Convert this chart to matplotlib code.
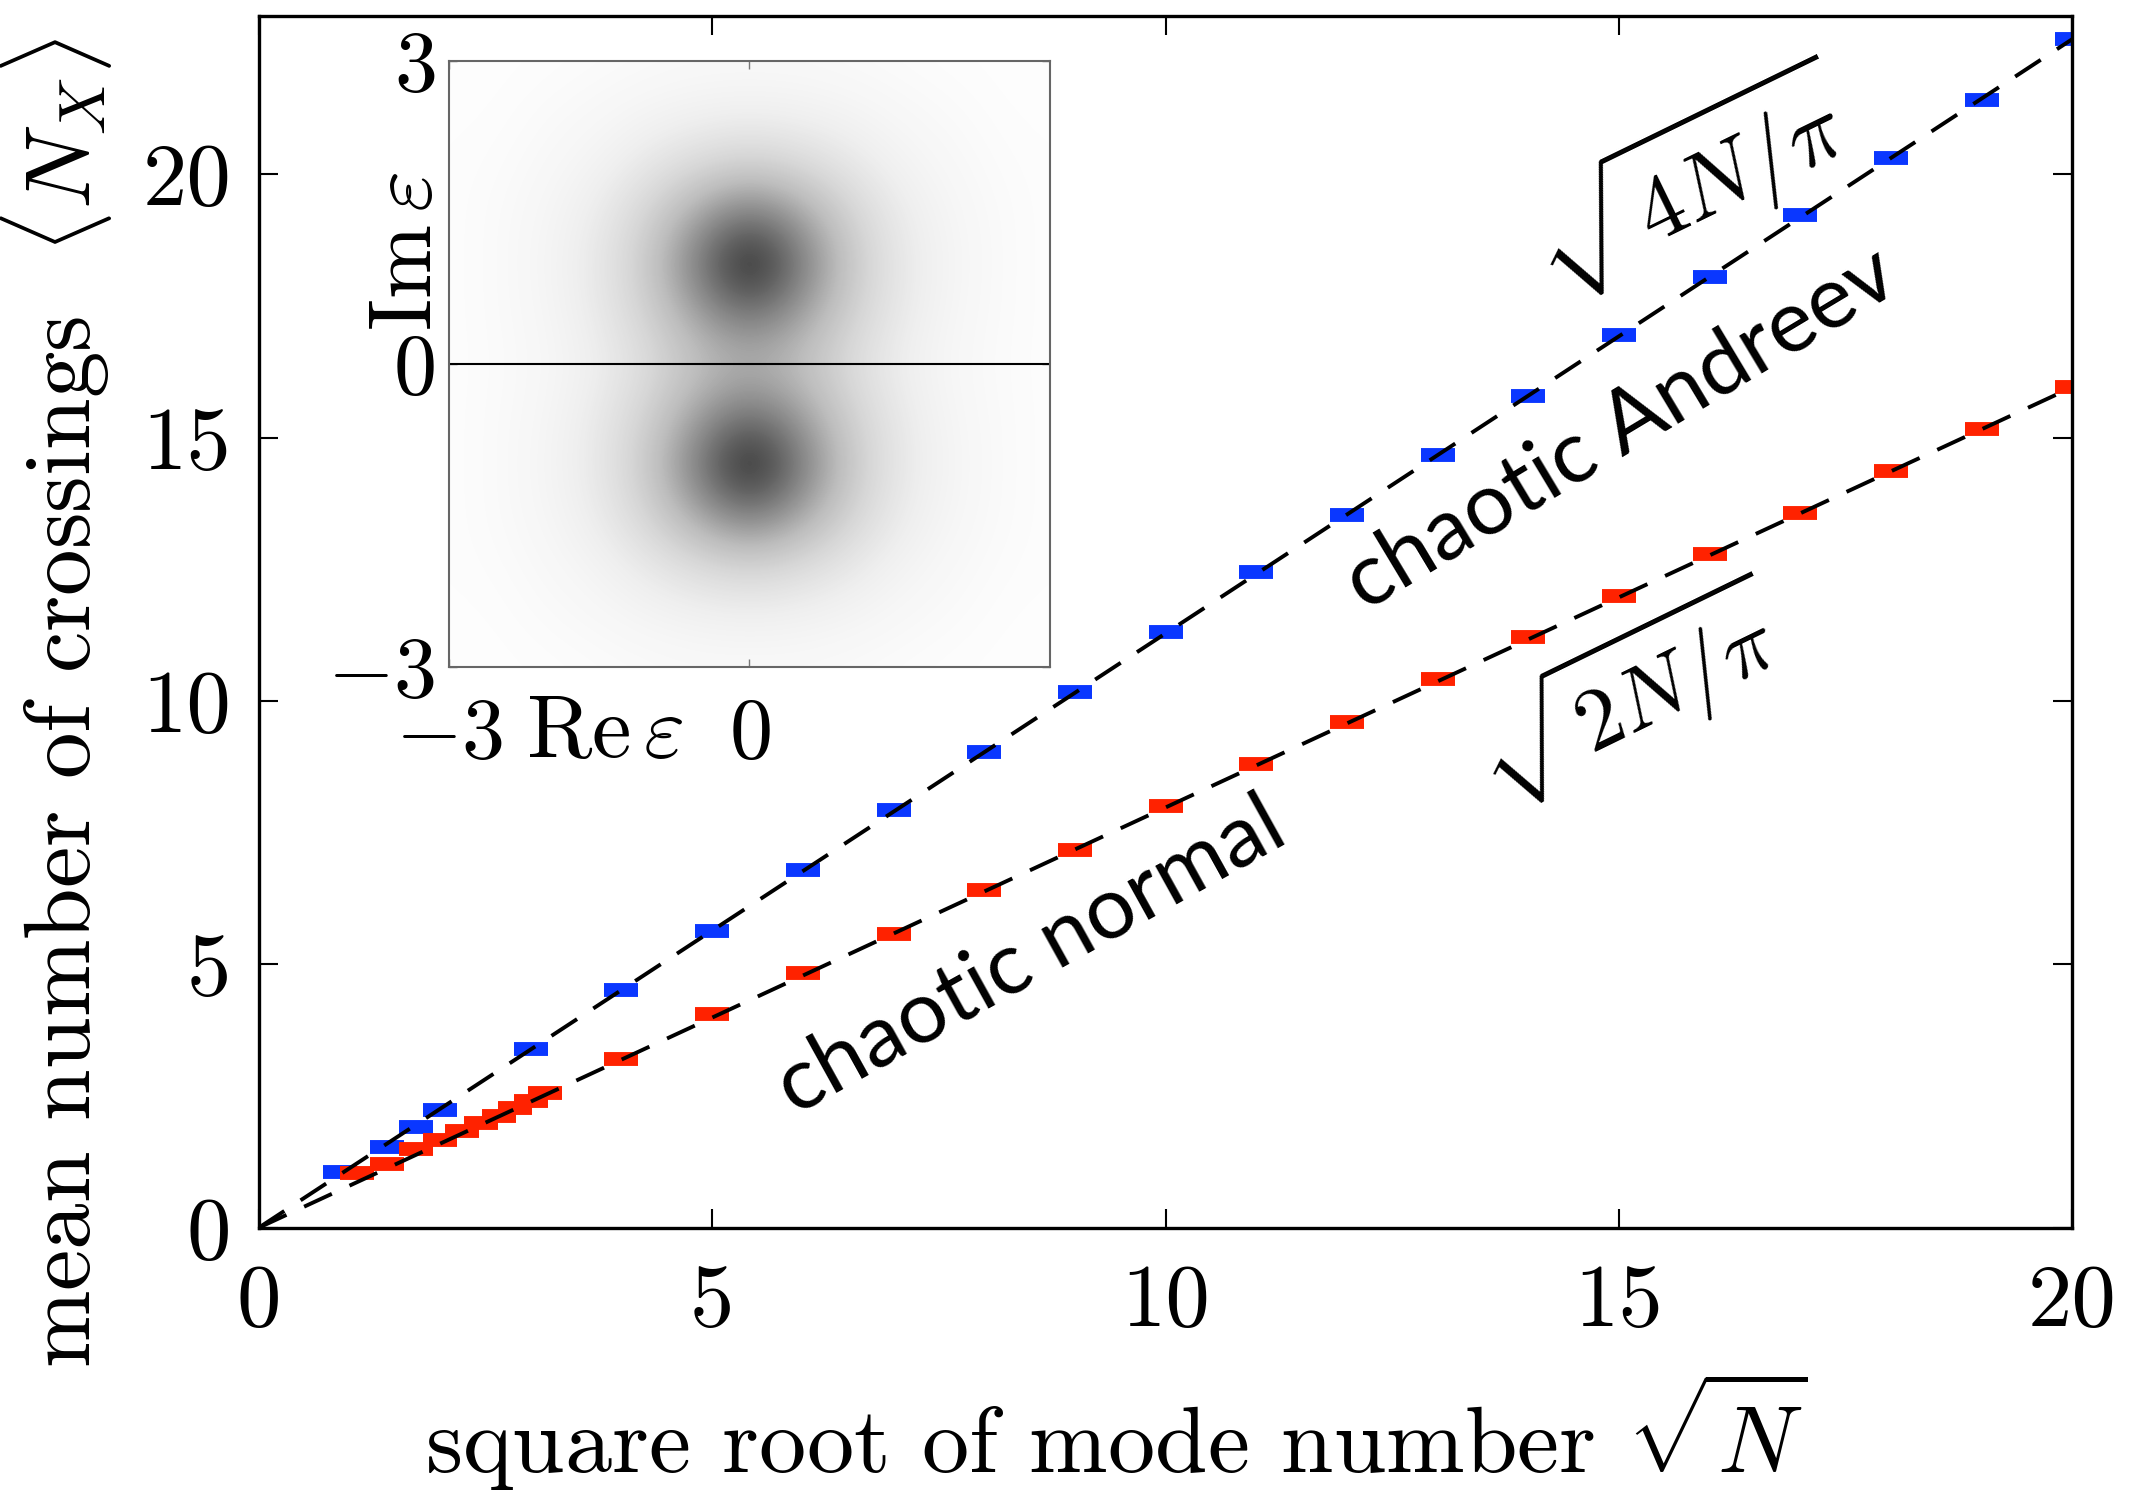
import numpy as np
import matplotlib
matplotlib.use('Agg')
import matplotlib.pyplot as plt

plt.rcParams['font.family'] = 'serif'
plt.rcParams['font.serif'] = ['cmr10']
plt.rcParams['mathtext.fontset'] = 'cm'
plt.rcParams['axes.unicode_minus'] = False
plt.rcParams['lines.scale_dashes'] = False

# sqrt(N) positions and mean crossings
andreev_x = [0.9, 1.41, 1.73, 2.0, 3, 4, 5, 6, 7, 8, 9, 10, 11, 12, 13, 14, 15, 16, 17, 18, 19, 20]
andreev_y = [1.05, 1.54, 1.92, 2.24, 3.40, 4.52, 5.63, 6.80, 7.93, 9.04, 10.18, 11.32, 12.45,
             13.54, 14.68, 15.79, 16.95, 18.06, 19.22, 20.31, 21.42, 22.58]
normal_x = [1.08, 1.41, 1.73, 2.0, 2.24, 2.45, 2.65, 2.83, 3.0, 3.16, 4, 5, 6, 7, 8, 9, 10,
            11, 12, 13, 14, 15, 16, 17, 18, 19, 20]
normal_y = [1.04, 1.21, 1.50, 1.67, 1.83, 1.99, 2.13, 2.27, 2.41, 2.55, 3.20, 4.06, 4.83, 5.58,
            6.41, 7.18, 8.01, 8.81, 9.61, 10.41, 11.21, 11.99, 12.79, 13.57, 14.37, 15.17, 15.97]

# dashed guide lines sqrt(4N/pi) and sqrt(2N/pi), end points
line_x = [0, 20]
line_andreev = [0, 22.57]
line_normal = [0, 15.96]

# inset: darkness of the eigenvalue cloud (rows y = 3 ... 0, cols x = -3 ... 3), mirrored below
half = [
    [.01, .015, .02, .03, .04, .05, .05, .05, .04, .03, .02, .015, .01],
    [.015, .02, .04, .06, .09, .11, .12, .11, .09, .06, .04, .02, .015],
    [.02, .03, .06, .10, .17, .24, .28, .24, .17, .10, .06, .03, .02],
    [.02, .04, .08, .15, .28, .45, .58, .45, .28, .15, .08, .04, .02],
    [.02, .04, .09, .17, .33, .60, 1.0, .60, .33, .17, .09, .04, .02],
    [.02, .04, .08, .16, .29, .47, .62, .47, .29, .16, .08, .04, .02],
]
mid_row = [.02, .035, .07, .13, .23, .35, .40, .35, .23, .13, .07, .035, .02]
density = np.array(half + [mid_row] + half[::-1])

blue = '#0a37ff'
red = '#ff2200'

fig = plt.figure(figsize=(21.35, 15.04), dpi=100)
ax = fig.add_axes([0.1212, 0.1837, 0.8495, 0.8054])

ax.plot(andreev_x, andreev_y, ls='none', marker='_', ms=24, mew=10, color=blue, zorder=2)
ax.plot(normal_x, normal_y, ls='none', marker='_', ms=24, mew=10, color=red, zorder=2)
ax.plot(line_x, line_andreev, color='black', lw=2.8, dashes=(22, 14), zorder=3)
ax.plot(line_x, line_normal, color='black', lw=2.8, dashes=(22, 14), zorder=3)

ax.set_xlim(0, 20)
ax.set_ylim(0, 23)
ax.set_xticks([0, 5, 10, 15, 20])
ax.set_yticks([0, 5, 10, 15, 20])
ax.tick_params(direction='in', length=14, width=1.5, labelsize=64, top=True, right=True)
ax.tick_params(axis='x', pad=26)
ax.tick_params(axis='y', pad=20)
for s in ax.spines.values():
    s.set_linewidth(2.4)

ax.set_xlabel(r'square root of mode number $\sqrt{N}$', fontsize=68)
ax.xaxis.set_label_coords(0.473, -0.118)
ax.set_ylabel(r'mean number of crossings  $\langle N_X\rangle$', fontsize=67)
ax.yaxis.set_label_coords(-0.08, 0.433)

ax.text(15.02, 15.17, 'chaotic Andreev', family='Lato', fontsize=63, rotation=31,
        rotation_mode='anchor', ha='center', va='center')
ax.text(8.51, 5.14, 'chaotic normal', family='Lato', fontsize=63, rotation=29,
        rotation_mode='anchor', ha='center', va='center')
ax.text(15.77, 19.85, r'$\sqrt{4N/\pi}$', fontsize=66, rotation=26,
        rotation_mode='anchor', ha='center', va='center')
ax.text(15.09, 10.13, r'$\sqrt{2N/\pi}$', fontsize=64, rotation=26,
        rotation_mode='anchor', ha='center', va='center')

# inset
ins = fig.add_axes([0.2103, 0.5565, 0.2815, 0.4029])
ins.imshow(density, extent=[-3.25, 3.25, -3.25, 3.25], cmap='Greys', vmin=0, vmax=1,
           interpolation='bicubic', aspect='auto')
ins.axhline(0, color='black', lw=1.5)
ins.set_xlim(-3, 3)
ins.set_ylim(-3, 3)
ins.set_xticks([-3, 0])
ins.set_xticklabels([r'$-3$', r'$0$'])
ins.set_yticks([-3, 0, 3])
ins.set_yticklabels([r'$-3$', r'$0$', r'$3$'])
ins.tick_params(direction='in', length=6, width=1, color='#777777', labelsize=62, top=True, right=True)
ins.tick_params(axis='x', pad=22)
ins.tick_params(axis='y', pad=10)
for s in ins.spines.values():
    s.set_linewidth(1.5)
    s.set_color('#666666')
ins.text(-0.068, 0.685, r'$\mathrm{Im}\,\varepsilon$', transform=ins.transAxes, fontsize=64,
         rotation=90, ha='center', va='center')
ins.text(0.26, -0.112, r'$\mathrm{Re}\,\varepsilon$', transform=ins.transAxes, fontsize=64,
         ha='center', va='center')

fig.savefig('out.png', dpi=100)
